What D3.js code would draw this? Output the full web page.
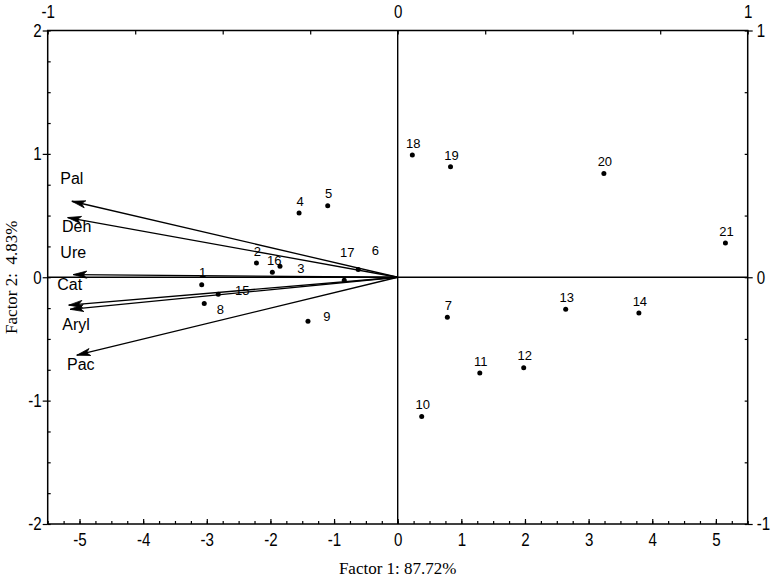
<!DOCTYPE html>
<html>
<head>
<meta charset="utf-8">
<script src="https://cdn.jsdelivr.net/npm/d3@7"></script>
<style>
  body { margin: 0; background: #fff; }
  svg { display: block; }
  .tick text { font-family: "Liberation Sans", Arial, sans-serif; font-size: 18px; fill: #000; }
  .tick line { stroke: #000; stroke-width: 1.2; }
</style>
</head>
<body>
<svg id="chart"></svg>
<script>
// case numbers and their factor scores
var caseIds = ["1","2","3","4","5","6","7","8","9","10","11","12","13","14","15","16","17","18","19","20","21"];
var factor1 = [-3.08, -2.22, -1.85, -1.55, -1.10, -0.62, 0.78, -3.04, -1.41, 0.377, 1.29, 1.98, 2.64, 3.79, -2.82, -1.97, -0.84, 0.23, 0.83, 3.24, 5.15];
var factor2 = [-0.06, 0.116, 0.09, 0.52, 0.58, 0.062, -0.325, -0.213, -0.357, -1.128, -0.776, -0.733, -0.26, -0.29, -0.138, 0.04, -0.024, 0.99, 0.895, 0.84, 0.278];

// variable loadings (arrows)
var varNames = ["Pal", "Deh", "Ure", "Cat", "Aryl", "Pac"];
var load1 = [-0.931, -0.943, -0.927, -0.940, -0.936, -0.917];
var load2 = [0.308, 0.242, 0.011, -0.113, -0.130, -0.316];

var scoreTicks = [-5, -4, -3, -2, -1, 0, 1, 2, 3, 4, 5];
var scoreTicksY = [-2, -1, 0, 1, 2];
var loadTicks = [-1, 0, 1];

// label nudges in px (dx, dy from the mark)
var caseNudge = {"3":[21,2], "6":[17,-19], "8":[16,6], "9":[19,-5], "15":[24,-4], "16":[2,-12], "17":[3,-28]};
var varNudge = {"Pal":[0,-23], "Deh":[9,9], "Ure":[0,-22], "Cat":[1,-21], "Aryl":[6,15], "Pac":[4,9]};

(function() {

var svgWidth = 772, svgHeight = 579;
var pLeft = 47.7, pRight = 747.7, pTop = 30.5, pBottom = 524;

var svg = d3.select("#chart")
  .attr("width", svgWidth)
  .attr("height", svgHeight);

svg.append("rect").attr("width", svgWidth).attr("height", svgHeight).attr("fill", "#fff");

var x = d3.scaleLinear().domain([-5.5, 5.5]).range([pLeft, pRight]);
var y = d3.scaleLinear().domain([-2, 2]).range([pBottom, pTop]);
var xl = d3.scaleLinear().domain([-1, 1]).range([pLeft, pRight]);
var yl = d3.scaleLinear().domain([-1, 1]).range([pBottom, pTop]);

function quarters(a, b) {
  var out = [];
  for (var v = a; v <= b + 1e-9; v += 0.25) out.push(+v.toFixed(2));
  return out;
}

function plain(d) { return String(d); }

function drawAxis(gen, tx, ty) {
  var g = svg.append("g")
    .attr("transform", "translate(" + tx + "," + ty + ")")
    .call(gen);
  g.select(".domain").remove();
  return g;
}

// narrow look of the tick digits
function squeeze(g) {
  g.selectAll("text").each(function() {
    var t = d3.select(this);
    var tx = +t.attr("x") || 0;
    t.attr("x", tx / 0.84).attr("transform", "scale(0.84,1)");
  });
}

// minor ticks
drawAxis(d3.axisBottom(x).tickValues(quarters(-5.5, 5.5)).tickSize(-3).tickFormat(""), 0, pBottom);
drawAxis(d3.axisLeft(y).tickValues(quarters(-2, 2)).tickSize(-3).tickFormat(""), pLeft, 0);
drawAxis(d3.axisTop(xl).tickValues(quarters(-1, 1)).tickSize(-4).tickFormat(""), 0, pTop);
drawAxis(d3.axisRight(yl).tickValues(quarters(-1, 1)).tickSize(-3).tickFormat(""), pRight, 0);

// major ticks + labels
squeeze(drawAxis(d3.axisBottom(x).tickValues(scoreTicks).tickSize(-5).tickPadding(9).tickFormat(plain), 0, pBottom));
squeeze(drawAxis(d3.axisLeft(y).tickValues(scoreTicksY).tickSize(5).tickPadding(1).tickFormat(plain), pLeft, 0));
squeeze(drawAxis(d3.axisTop(xl).tickValues(loadTicks).tickSize(0).tickPadding(13).tickFormat(plain), 0, pTop));
squeeze(drawAxis(d3.axisRight(yl).tickValues(loadTicks).tickSize(5).tickPadding(4).tickFormat(plain), pRight, 0));

// frame
svg.append("rect")
  .attr("x", pLeft).attr("y", pTop)
  .attr("width", pRight - pLeft).attr("height", pBottom - pTop)
  .attr("fill", "none").attr("stroke", "#000").attr("stroke-width", 1.5);

// zero lines
svg.append("line").attr("x1", pLeft).attr("x2", pRight).attr("y1", y(0)).attr("y2", y(0))
  .attr("stroke", "#000").attr("stroke-width", 1.4);
svg.append("line").attr("x1", x(0)).attr("x2", x(0)).attr("y1", pTop).attr("y2", pBottom)
  .attr("stroke", "#000").attr("stroke-width", 1.4);

// arrows
var arrows = varNames.map(function(d, i) { return {name: d, a: load1[i], b: load2[i]}; });

var ag = svg.selectAll(".arrow").data(arrows).enter().append("g").attr("class", "arrow");

ag.append("line")
  .attr("x1", xl(0)).attr("y1", yl(0))
  .attr("x2", function(d) { return xl(d.a); })
  .attr("y2", function(d) { return yl(d.b); })
  .attr("stroke", "#000").attr("stroke-width", 1.3);

ag.append("path")
  .attr("d", function(d) {
    var tx = xl(d.a), ty = yl(d.b);
    var ang = Math.atan2(yl(0) - ty, xl(0) - tx);
    var len = 14, back = 10, spread = 0.26;
    var p1 = [tx + len * Math.cos(ang + spread), ty + len * Math.sin(ang + spread)];
    var p2 = [tx + back * Math.cos(ang), ty + back * Math.sin(ang)];
    var p3 = [tx + len * Math.cos(ang - spread), ty + len * Math.sin(ang - spread)];
    return "M" + tx + "," + ty + "L" + p1 + "L" + p2 + "L" + p3 + "Z";
  })
  .attr("fill", "#000").attr("stroke", "#000").attr("stroke-width", 0.8);

ag.append("text")
  .attr("x", function(d) { return xl(d.a) + varNudge[d.name][0]; })
  .attr("y", function(d) { return yl(d.b) + varNudge[d.name][1]; })
  .attr("dy", "0.36em")
  .attr("text-anchor", "middle")
  .style("font-family", "'Liberation Sans', Arial, sans-serif")
  .style("font-size", "16px")
  .text(function(d) { return d.name; });

// case points
var pts = caseIds.map(function(d, i) { return {id: d, f1: factor1[i], f2: factor2[i]}; });

svg.selectAll(".pt").data(pts).enter().append("circle")
  .attr("class", "pt")
  .attr("cx", function(d) { return x(d.f1); })
  .attr("cy", function(d) { return y(d.f2); })
  .attr("r", 2.5)
  .attr("fill", "#000");

svg.selectAll(".ptlab").data(pts).enter().append("text")
  .attr("class", "ptlab")
  .attr("x", function(d) { var n = caseNudge[d.id] || [1, -12]; return x(d.f1) + n[0]; })
  .attr("y", function(d) { var n = caseNudge[d.id] || [1, -12]; return y(d.f2) + n[1]; })
  .attr("dy", "0.36em")
  .attr("text-anchor", "middle")
  .style("font-family", "'Liberation Sans', Arial, sans-serif")
  .style("font-size", "13px")
  .text(function(d) { return d.id; });

// axis titles
svg.append("text")
  .attr("x", x(0)).attr("y", 574)
  .attr("text-anchor", "middle")
  .style("font-family", "'Liberation Serif', 'Times New Roman', serif")
  .style("font-size", "17px")
  .text("Factor 1: 87.72%");

svg.append("text")
  .attr("transform", "translate(17," + y(0) + ") rotate(-90)")
  .attr("text-anchor", "middle")
  .style("font-family", "'Liberation Serif', 'Times New Roman', serif")
  .style("font-size", "17px")
  .style("white-space", "pre")
  .text("Factor 2:  4.83%");

})();
</script>
</body>
</html>
